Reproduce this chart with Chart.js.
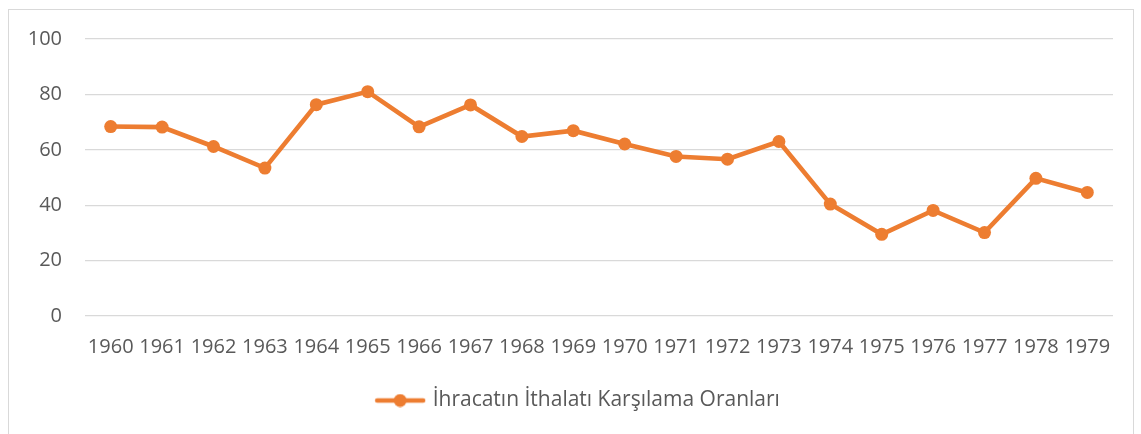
<!DOCTYPE html>
<html>
<head>
<meta charset="utf-8">
<script src="https://cdn.jsdelivr.net/npm/chart.js@4"></script>
<style>
  html, body { margin: 0; padding: 0; background: #fff; overflow: hidden; }
  #frame {
    position: absolute; left: 8px; top: 9px;
    width: 1124px; height: 440px;
    border: 1px solid #d9d9d9;
  }
  #chart { display: block; }
</style>
</head>
<body>
<div id="frame"><canvas id="chart" width="1124" height="424"></canvas></div>
<script>
const years = ['1960', '1961', '1962', '1963', '1964', '1965', '1966', '1967', '1968', '1969',
  '1970', '1971', '1972', '1973', '1974', '1975', '1976', '1977', '1978', '1979'];
const coverageRatio = [68.4, 68.2, 61.2, 53.4, 76.3, 81.0, 68.3, 76.2, 64.8, 66.9,
  62.1, 57.6, 56.6, 63.0, 40.4, 29.5, 38.1, 30.1, 49.7, 44.6];
const seriesLabel = 'İhracatın İthalatı Karşılama Oranları';
const yTicks = [0, 20, 40, 60, 80, 100];

const orange = '#ED7D31';
const textGray = '#595959';
const fontFamily = '"Open Sans", sans-serif';

// legend glyph: short line with a dot in the middle, like Excel
const legendGlyph = document.createElement('canvas');
legendGlyph.width = 52;
legendGlyph.height = 14;
(() => {
  const g = legendGlyph.getContext('2d');
  g.strokeStyle = orange;
  g.lineWidth = 4.5;
  g.lineCap = 'round';
  g.beginPath();
  g.moveTo(3, 7);
  g.lineTo(49, 7);
  g.stroke();
  g.fillStyle = orange;
  g.beginPath();
  g.arc(26, 7, 6.5, 0, Math.PI * 2);
  g.fill();
})();

// Excel centres the legend a bit right of the canvas centre
const legendShift = {
  id: 'legendShift',
  afterUpdate(chart) {
    if (chart.legend) {
      chart.legend.left += 18;
      chart.legend.right += 18;
    }
  },
};

new Chart(document.getElementById('chart'), {
  type: 'line',
  data: {
    labels: years,
    datasets: [{
      label: seriesLabel,
      data: coverageRatio,
      borderColor: orange,
      backgroundColor: orange,
      borderWidth: 4.6,
      pointRadius: 6.5,
      pointHoverRadius: 6.5,
      pointBackgroundColor: orange,
      pointBorderWidth: 0,
      tension: 0,
      fill: false,
    }],
  },
  plugins: [legendShift],
  options: {
    responsive: false,
    animation: false,
    events: [],
    layout: { padding: { top: 29, right: 20, left: 0, bottom: 13 } },
    plugins: {
      tooltip: { enabled: false },
      legend: {
        position: 'bottom',
        labels: {
          color: textGray,
          font: { family: fontFamily, size: 21 },
          usePointStyle: true,
          pointStyleWidth: 44,
          padding: 10,
          generateLabels: (chart) => [{
            text: seriesLabel,
            fillStyle: orange,
            strokeStyle: orange,
            pointStyle: legendGlyph,
            fontColor: textGray,
            datasetIndex: 0,
            hidden: false,
            lineWidth: 0,
          }],
        },
      },
    },
    scales: {
      x: {
        offset: true,
        grid: { display: false, drawTicks: false },
        border: { display: false },
        ticks: {
          color: textGray,
          font: { family: fontFamily, size: 20 },
          padding: 19,
          maxRotation: 0,
          autoSkip: false,
        },
        afterFit: (scale) => { scale.height = 64; },
      },
      y: {
        min: 0,
        max: 100,
        afterBuildTicks: (scale) => { scale.ticks = yTicks.map(v => ({ value: v })); },
        grid: { color: '#d9d9d9', lineWidth: 1.3, drawTicks: false },
        border: { display: false },
        ticks: {
          color: textGray,
          font: { family: fontFamily, size: 20 },
          padding: 23,
        },
        afterFit: (scale) => {
          scale.width = 76;
          scale.paddingTop = 0;
          scale.paddingBottom = 0;
        },
      },
    },
  },
});
</script>
</body>
</html>
